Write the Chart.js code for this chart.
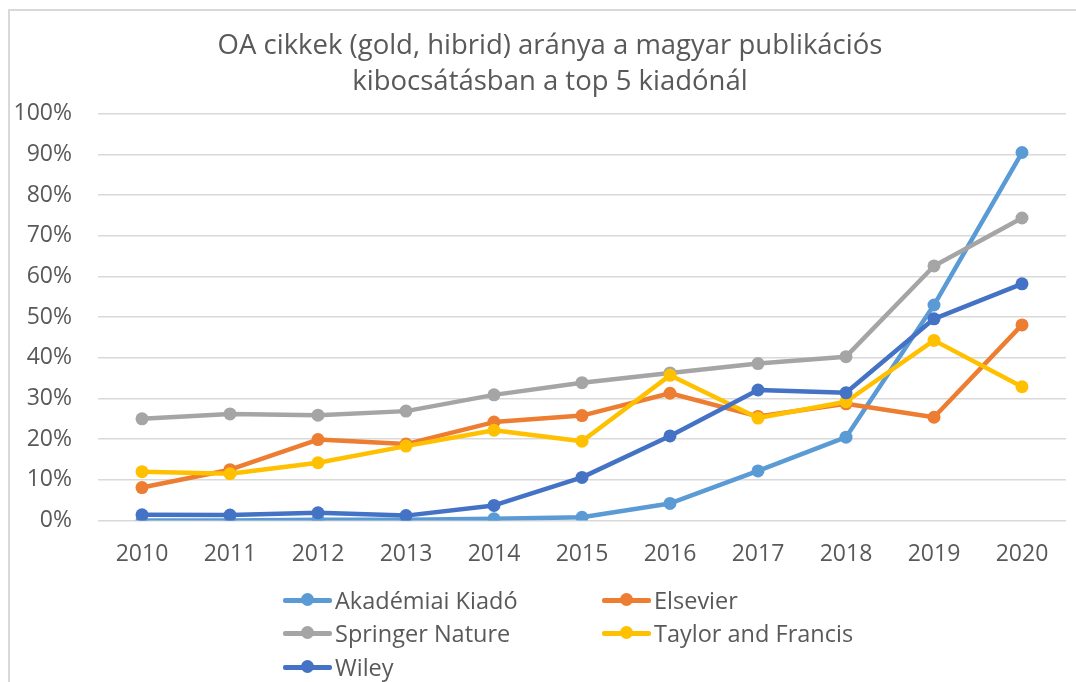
<!DOCTYPE html>
<html lang="hu">
<head>
<meta charset="utf-8">
<title>OA cikkek aránya a top 5 kiadónál</title>
<script src="https://cdn.jsdelivr.net/npm/chart.js@4.4.1/dist/chart.umd.min.js"></script>
<style>
  html, body { margin: 0; padding: 0; background: #fff; overflow: hidden; }
  #wrap { position: relative; width: 1076px; height: 682px; }
  #frame {
    position: absolute; left: 8px; top: 9px; width: 1200px; height: 800px;
    border: 2px solid #d9d9d9; pointer-events: none;
  }
  #legend {
    position: absolute; left: 283px; top: 583px;
    display: grid; grid-template-columns: 319px 300px; grid-auto-rows: 33.5px;
    font-family: 'Open Sans', sans-serif; font-size: 23.5px; color: #595959;
  }
  .item { display: flex; align-items: center; white-space: nowrap; }
  .swatch { position: relative; width: 49px; height: 14px; margin-right: 3px; }
  .swatch .ln { position: absolute; left: 0; right: 0; top: 5px; height: 5px; border-radius: 2px; }
  .swatch .dt { position: absolute; left: 18px; top: 0; width: 13px; height: 13px; border-radius: 50%; }
</style>
</head>
<body>
<div id="wrap">
  <canvas id="chartOA" width="1076" height="682"></canvas>
  <div id="frame"></div>
  <div id="legend"></div>
</div>
<script>
/* ---------- data (% of output) ---------- */
const YEARS      = ['2010', '2011', '2012', '2013', '2014', '2015', '2016', '2017', '2018', '2019', '2020'];
const AKADEMIAI  = [0, 0, 0.2, 0.2, 0.4, 0.8, 4.2, 12.2, 20.5, 53.0, 90.5];
const ELSEVIER   = [8.1, 12.5, 19.9, 18.8, 24.2, 25.8, 31.3, 25.6, 28.7, 25.4, 48.1];
const SPRINGER   = [25.0, 26.2, 25.9, 26.9, 30.9, 33.9, 36.3, 38.6, 40.3, 62.6, 74.4];
const TAYLOR     = [12.0, 11.5, 14.2, 18.3, 22.2, 19.5, 35.7, 25.2, 29.2, 44.3, 32.9];
const WILEY      = [1.4, 1.35, 1.9, 1.2, 3.7, 10.6, 20.8, 32.1, 31.4, 49.6, 58.2];
const SERIES     = ['Akadémiai Kiadó', 'Elsevier', 'Springer Nature', 'Taylor and Francis', 'Wiley'];
const TITLE      = ['OA cikkek (gold, hibrid) aránya a magyar publikációs', 'kibocsátásban a top 5 kiadónál'];
const Y_MIN = 0, Y_MAX = 100, Y_STEP = 10;

(function () {
  'use strict';

  const LIGHT_BLUE = '#5B9BD5';
  const ORANGE     = '#ED7D31';
  const GREY       = '#A5A5A5';
  const GOLD       = '#FFC000';
  const BLUE       = '#4472C4';
  const TEXT       = '#595959';
  const RULE       = '#d9d9d9';
  const FONT       = "'Open Sans', sans-serif";

  Chart.defaults.font.family = FONT;
  Chart.defaults.color = TEXT;

  /* Excel draws later series on top -> lower order = drawn last */
  function series(label, data, color, order) {
    return {
      label: label, data: data, order: order,
      borderColor: color, backgroundColor: color,
      borderWidth: 4.5, pointRadius: 6.5, pointHoverRadius: 7,
      pointBorderWidth: 0, pointBackgroundColor: color,
      tension: 0, borderCapStyle: 'round', borderJoinStyle: 'round',
    };
  }

  /* Excel centres the title a bit right of the canvas middle */
  const titleShift = {
    id: 'titleShift',
    afterLayout(chart) {
      if (chart.titleBlock) chart.titleBlock.left = 34;
    },
  };

  const chart = new Chart(document.getElementById('chartOA'), {
    type: 'line',
    data: {
      labels: YEARS,
      datasets: [
        series(SERIES[0], AKADEMIAI, LIGHT_BLUE, 4),
        series(SERIES[1], ELSEVIER, ORANGE, 3),
        series(SERIES[2], SPRINGER, GREY, 2),
        series(SERIES[3], TAYLOR, GOLD, 1),
        series(SERIES[4], WILEY, BLUE, 0),
      ],
    },
    plugins: [titleShift],
    options: {
      responsive: false,
      animation: false,
      layout: { padding: { left: 0, right: 10, top: 0, bottom: 111.5 } },
      plugins: {
        legend: { display: false },
        tooltip: { enabled: false },
        title: {
          display: true,
          text: TITLE,
          color: TEXT,
          font: { family: FONT, size: 27.5, weight: 'normal', lineHeight: 1.28 },
          padding: { top: 29, bottom: 14.5 },
        },
      },
      scales: {
        x: {
          offset: true,
          grid: { display: false, drawTicks: false },
          border: { display: false },
          ticks: { color: TEXT, font: { size: 23 }, padding: 20, maxRotation: 0 },
          afterFit: (s) => { s.height = 50; },
        },
        y: {
          min: Y_MIN, max: Y_MAX,
          grid: { color: RULE, lineWidth: 1.5, drawTicks: false },
          border: { display: false },
          ticks: {
            stepSize: Y_STEP, color: TEXT, font: { size: 23 }, padding: 26,
            callback: (v) => v + '%',
          },
          afterFit: (s) => { s.width = 98; },
        },
      },
    },
  });

  /* two-column legend like the Excel original */
  const legend = document.getElementById('legend');
  chart.data.datasets.forEach((ds) => {
    const item = document.createElement('div');
    item.className = 'item';
    item.innerHTML = '<span class="swatch"><span class="ln" style="background:' + ds.borderColor +
      '"></span><span class="dt" style="background:' + ds.borderColor + '"></span></span>';
    const txt = document.createElement('span');
    txt.textContent = ds.label;
    item.appendChild(txt);
    legend.appendChild(item);
  });
})();
</script>
</body>
</html>
